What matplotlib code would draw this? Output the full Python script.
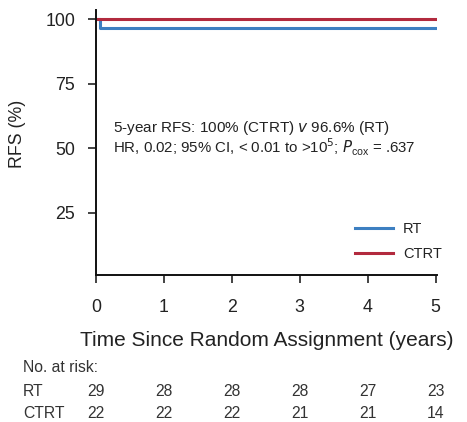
import matplotlib
matplotlib.use("Agg")
import matplotlib.pyplot as plt
import matplotlib.transforms as mtransforms

plt.rcParams['font.family'] = ['Liberation Sans', 'DejaVu Sans']

# Data
groups = ["RT", "CTRT"]
colors = {"RT": "#3d7fc1", "CTRT": "#b22a3e"}
rt_time = [0, 0.06, 0.06, 5.0]
rt_surv = [100, 100, 96.6, 96.6]
ctrt_time = [0, 5.0]
ctrt_surv = [100, 100]
xticks = [0, 1, 2, 3, 4, 5]
yticks = [25, 50, 75, 100]
risk_rt = [29, 28, 28, 28, 27, 23]
risk_ctrt = [22, 22, 22, 21, 21, 14]

W, H = 467, 422
fig = plt.figure(figsize=(W / 100, H / 100), dpi=100)
ax = fig.add_axes([96 / W, (H - 275) / H, 341 / W, 265 / H])

ax.plot(rt_time, rt_surv, color=colors["RT"], lw=2.2, label="RT")
ax.plot(ctrt_time, ctrt_surv, color=colors["CTRT"], lw=2.2, label="CTRT")

ax.set_xlim(0, 5.02)
ax.set_ylim(1, 103.5)
ax.set_xticks(xticks)
ax.set_yticks(yticks)
ax.tick_params(direction='out', length=6, width=1.2, labelsize=12.8,
               colors='#222222')
ax.tick_params(axis='x', pad=11)
ax.tick_params(axis='y', pad=9)
for s in ['top', 'right']:
    ax.spines[s].set_visible(False)
for s in ['left', 'bottom']:
    ax.spines[s].set_linewidth(1.4)
    ax.spines[s].set_color('#111111')

ax.set_xlabel("Time Since Random Assignment (years)", fontsize=15, labelpad=11,
              color='#222222')
ax.set_ylabel("RFS (%)", fontsize=12.8, color='#222222')
ax.yaxis.set_label_coords(-0.205, 0.532)

txt = '#222222'
ax.text(0.05, 0.555, "5-year RFS: 100% (CTRT) $v$ 96.6% (RT)", transform=ax.transAxes,
        fontsize=11, color=txt, va='center')
ax.text(0.05, 0.483, r"HR, 0.02; 95% CI, < 0.01 to >10$^5$; $P_{\mathregular{cox}}$ = .637",
        transform=ax.transAxes, fontsize=10.8, color=txt, va='center')

leg = fig.legend(handles=ax.get_lines(), loc='upper left', frameon=False, fontsize=10.5,
                 handlelength=2.6, bbox_to_anchor=(355 / W, 1 - 222 / H),
                 borderpad=0, borderaxespad=0, labelspacing=0.75, handletextpad=0.7)
for t in leg.get_texts():
    t.set_color(txt)

trans = mtransforms.blended_transform_factory(ax.transData, fig.transFigure)
rcol = '#333333'
fs = 11.3
fig.text(23 / W, 1 - 368 / H, "No. at risk:", fontsize=fs, color=rcol, va='center')
fig.text(23 / W, 1 - 392 / H, "RT", fontsize=fs, color=rcol, va='center')
fig.text(23 / W, 1 - 414 / H, "CTRT", fontsize=fs, color=rcol, va='center')
for x, v in zip(xticks, risk_rt):
    ax.text(x, 1 - 392 / H, str(v), transform=trans, fontsize=fs, color=rcol,
            ha='center', va='center', clip_on=False)
for x, v in zip(xticks, risk_ctrt):
    ax.text(x, 1 - 414 / H, str(v), transform=trans, fontsize=fs, color=rcol,
            ha='center', va='center', clip_on=False)

fig.savefig("out.png", dpi=100)
